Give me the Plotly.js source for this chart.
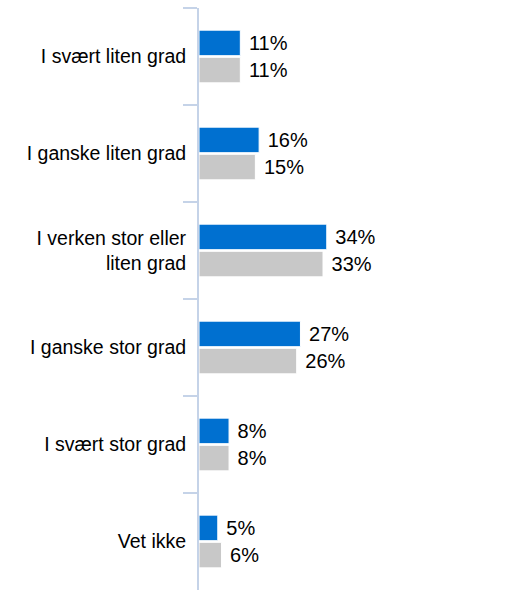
<!DOCTYPE html>
<html><head><meta charset="utf-8">
<script src="https://cdn.plot.ly/plotly-3.0.1.min.js"></script>
<style>html,body{margin:0;padding:0;background:#fff}</style>
</head><body>
<div id="chart" style="width:507px;height:590px"></div>
<script>
const categories = ["I svært liten grad","I ganske liten grad","I verken stor eller<br>liten grad","I ganske stor grad","I svært stor grad","Vet ikke"];
const seriesA = [11,16,34,27,8,5];
const seriesB = [11,15,33,26,8,6];
const seriesNames = ["Serie 1","Serie 2"];

const common = {type:'bar', orientation:'h', y:categories, textposition:'outside', cliponaxis:false,
  constraintext:'none', texttemplate:' %{x}%',
  textfont:{family:'Liberation Sans, Arial, sans-serif', size:20, color:'#000'}, hoverinfo:'none'};
const data = [
  Object.assign({}, common, {x:seriesA, name:seriesNames[0], marker:{color:'#0070d0', line:{color:'#fff',width:1}}}),
  Object.assign({}, common, {x:seriesB, name:seriesNames[1], marker:{color:'#c8c8c8', line:{color:'#fff',width:1}}})
];
const layout = {
  width:507, height:590, margin:{l:199, r:10, t:8, b:0},
  barmode:'group', bargap:0.44, bargroupgap:0.06,
  showlegend:false, paper_bgcolor:'#fff', plot_bgcolor:'#fff',
  font:{family:'Liberation Sans, Arial, sans-serif', size:19.5, color:'#000'},
  xaxis:{range:[0,79.3], visible:false, fixedrange:true},
  yaxis:{autorange:'reversed', showline:true, linecolor:'#c5d3e8', linewidth:2,
    ticks:'outside', tickson:'boundaries', ticklen:14, tickcolor:'#c5d3e8', tickwidth:2,
    ticklabelstandoff:7,
    showgrid:false, zeroline:false, tickfont:{size:19.5, color:'#000'}, fixedrange:true}
};
Plotly.newPlot('chart', data, layout, {staticPlot:true});
</script>
</body></html>
